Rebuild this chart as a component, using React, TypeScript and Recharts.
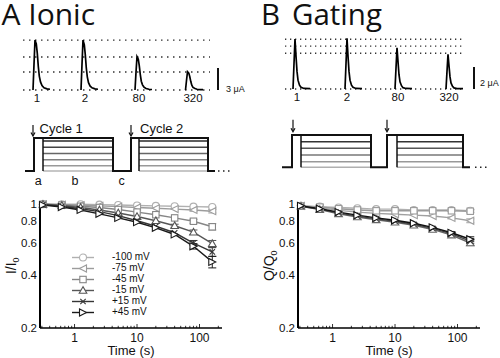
import React from 'react';
import { LineChart, Line, XAxis, YAxis, ReferenceLine, ReferenceDot, ErrorBar, Legend } from 'recharts';

const FONT = '"Liberation Sans", Arial, sans-serif';
const TITLE_FONT = '"Open Sans", "Noto Sans", sans-serif';

// ================= DATA =================
// Top row: example current traces (time in display units, current in µA)
const pulseLabels = ['1', '2', '80', '320'];

const ionicTraceTimes = [
  [33, 34, 35, 36.3, 37.3, 38.3, 39.3, 40.5, 42, 44, 47, 50],
  [81, 82, 83, 84.3, 85.3, 86.3, 87.3, 88.5, 90, 92, 95, 98],
  [135, 136, 137, 138.3, 139.3, 140.3, 141.3, 142.5, 144, 146, 149, 152],
  [185.5, 186.5, 187.5, 188.8, 189.8, 190.8, 191.8, 193, 195, 197, 200, 203],
];
const ionicTraceCurrents = [
  [0, 3.5, 6.8, 6.3, 5.0, 3.2, 1.9, 1.1, 0.6, 0.3, 0.15, 0.1],
  [0, 3.5, 6.8, 6.2, 4.8, 3.0, 1.8, 1.0, 0.55, 0.3, 0.15, 0.1],
  [0, 2.4, 4.55, 4.2, 3.3, 2.1, 1.2, 0.7, 0.4, 0.2, 0.1, 0.07],
  [0, 1.3, 2.5, 2.3, 1.8, 1.15, 0.65, 0.35, 0.2, 0.1, 0.05, 0.05],
];
const ionicPeakLevels = [0, 2.45, 4.5, 6.8];
const ionicScaleBar = 3;

const gatingTraceTimes = [
  [293, 294, 295, 296, 297, 298, 299.5, 301, 304, 310],
  [345, 346, 347, 348, 349, 350, 351.5, 353, 356, 362],
  [395, 396, 397, 398, 399, 400, 401.5, 403, 406, 412],
  [446, 447, 448, 449, 450, 451, 452.5, 454, 457, 463],
];
const gatingTraceCurrents = [
  [0, 2.3, 4.55, 3.0, 1.6, 0.8, 0.35, 0.15, 0.05, 0.03],
  [0, 2.3, 4.6, 3.0, 1.6, 0.8, 0.35, 0.15, 0.05, 0.03],
  [0, 1.9, 3.75, 2.5, 1.3, 0.65, 0.3, 0.12, 0.05, 0.03],
  [0, 1.6, 3.15, 2.1, 1.1, 0.55, 0.25, 0.1, 0.04, 0.03],
];
const gatingPeakLevels = [0, 3.25, 3.9, 4.52];
const gatingScaleBar = 2;

// Middle row: voltage protocols (time in display units, voltage in mV)
const holdingV = -100;
const protoATimes = [25, 34, 34, 113, 113, 131, 131, 208, 208, 215];
const protoAVolts = [-100, -100, 60, 60, -100, -100, 60, 60, -100, -100];
const protoATop = 60;
const protoAStepStarts = [43, 139];
const protoAStepEnds = [113, 208];
const protoALevels = [45, 15, -15, -45, -75, -100];
const protoAArrows = [33, 131];

const protoBTimes = [282, 292, 292, 371, 371, 387, 387, 463, 463, 470];
const protoBVolts = [-100, -100, 45, 45, -100, -100, 45, 45, -100, -100];
const protoBTop = 45;
const protoBStepStarts = [301, 397];
const protoBStepEnds = [371, 463];
const protoBLevels = [15, -15, -45, -75, -100];
const protoBArrows = [293, 387];

const cycleLabels = ['Cycle 1', 'Cycle 2'];
const phaseLabels = ['a', 'b', 'c'];

// Bottom row: normalized amplitude vs time
const times = [0.3125, 0.625, 1.25, 2.5, 5, 10, 20, 40, 80, 160];
const voltageLabels = ['-100 mV', '-75 mV', '-45 mV', '-15 mV', '+15 mV', '+45 mV'];

const ionicM100 = [0.99, 0.99, 0.99, 0.985, 0.98, 0.975, 0.97, 0.965, 0.96, 0.955];
const ionicM75 = [0.99, 0.985, 0.98, 0.97, 0.96, 0.95, 0.94, 0.93, 0.92, 0.905];
const ionicM45 = [0.99, 0.98, 0.965, 0.95, 0.925, 0.895, 0.865, 0.83, 0.795, 0.74];
const ionicM15 = [0.99, 0.975, 0.95, 0.92, 0.885, 0.845, 0.8, 0.75, 0.69, 0.595];
const ionicP15 = [0.985, 0.965, 0.935, 0.9, 0.855, 0.8, 0.745, 0.685, 0.6, 0.535];
const ionicP45 = [0.98, 0.955, 0.92, 0.875, 0.83, 0.785, 0.73, 0.67, 0.575, 0.47];
const ionicErrM100 = [null, null, null, null, null, null, null, null, null, 0.01];
const ionicErrM75 = [null, null, null, null, null, null, null, null, 0.015, 0.02];
const ionicErrM45 = [null, null, null, null, null, null, null, null, 0.02, 0.03];
const ionicErrM15 = [null, null, null, null, null, null, null, 0.015, 0.02, 0.025];
const ionicErrP15 = [null, null, null, null, null, null, null, null, 0.02, 0.03];
const ionicErrP45 = [null, null, null, null, null, null, null, null, 0.02, 0.035];

const gatingM100 = [0.97, 0.96, 0.95, 0.94, 0.93, 0.93, 0.92, 0.92, 0.92, 0.91];
const gatingM75 = [0.97, 0.945, 0.915, 0.895, 0.88, 0.87, 0.86, 0.85, 0.83, 0.8];
const gatingM45 = [0.97, 0.955, 0.935, 0.92, 0.91, 0.91, 0.91, 0.91, 0.91, 0.905];
const gatingM15 = [0.965, 0.925, 0.875, 0.84, 0.81, 0.785, 0.755, 0.715, 0.665, 0.6];
const gatingP15 = [0.965, 0.93, 0.885, 0.85, 0.82, 0.795, 0.765, 0.725, 0.675, 0.615];
const gatingP45 = [0.97, 0.935, 0.895, 0.86, 0.83, 0.805, 0.775, 0.735, 0.685, 0.63];
const gatingErr = [null, null, null, null, null, null, null, null, 0.01, 0.02];

const xTicks = [0.3, 0.4, 0.5, 0.6, 0.7, 0.8, 0.9, 1, 2, 3, 4, 5, 6, 7, 8, 9, 10, 20, 30, 40, 50, 60, 70, 80, 90, 100, 200];
const xMajorTicks = [1, 10, 100];
const yTicks = [0.2, 0.4, 0.6, 0.8, 1];

// ================= STYLE =================
const shapes = ['circle', 'triLeft', 'square', 'triUp', 'cross', 'triRight'];
const ionicColors = ['#b0b0b0', '#9c9c9c', '#868686', '#565656', '#363636', '#1a1a1a'];
const gatingColors = ['#b0b0b0', '#a0a0a0', '#9a9a9a', '#666666', '#444444', '#111111'];
const protoAColors = ['#2a2a2a', '#444444', '#666666', '#808080', '#999999', '#b5b5b5'];
const protoBColors = ['#333333', '#555555', '#777777', '#999999', '#b0b0b0'];

// ================= HELPERS =================
const Marker = ({ shape, cx, cy, color, s = 3.5 }: any) => {
  if (cx == null || cy == null || isNaN(cx) || isNaN(cy)) return <g />;
  const c = { stroke: color, strokeWidth: 1.1, fill: '#fff' };
  switch (shape) {
    case 'circle':
      return <circle cx={cx} cy={cy} r={s} {...c} />;
    case 'square':
      return <rect x={cx - s + 0.3} y={cy - s + 0.3} width={2 * s - 0.6} height={2 * s - 0.6} {...c} />;
    case 'triLeft':
      return <polygon points={`${cx - s},${cy} ${cx + s},${cy - s} ${cx + s},${cy + s}`} {...c} />;
    case 'triRight':
      return <polygon points={`${cx + s},${cy} ${cx - s},${cy - s} ${cx - s},${cy + s}`} {...c} />;
    case 'triUp':
      return <polygon points={`${cx},${cy - s - 0.3} ${cx - s - 0.3},${cy + s * 0.8} ${cx + s + 0.3},${cy + s * 0.8}`} {...c} />;
    default:
      return (
        <g stroke={color} strokeWidth={1.1}>
          <line x1={cx - 2.7} y1={cy - 2.7} x2={cx + 2.7} y2={cy + 2.7} />
          <line x1={cx - 2.7} y1={cy + 2.7} x2={cx + 2.7} y2={cy - 2.7} />
        </g>
      );
  }
};

const textShape = (value: string, opts: any = {}) => (p: any) => (
  <text
    x={p.cx}
    y={p.cy}
    textAnchor={opts.anchor || 'middle'}
    dy={opts.dy != null ? opts.dy : '0.35em'}
    fontFamily={FONT}
    fontSize={opts.size || 12}
    fill={opts.color || '#111'}
  >
    {value}
  </text>
);

const arrowShape = (len: number) => (p: any) => (
  <g stroke="#111" strokeWidth={1.2} fill="none">
    <line x1={p.cx} y1={p.cy - len} x2={p.cx} y2={p.cy - 0.5} />
    <polyline points={`${p.cx - 2},${p.cy - 3.5} ${p.cx},${p.cy} ${p.cx + 2},${p.cy - 3.5}`} />
  </g>
);

// ================= TRACES =================
function TraceChart(props: any) {
  const { times: tt, currents, levels, levelFrom, levelTo, dash, domainX, domainY, bar, barX, barLabel, barLabelX, barLabelY, labelXs, labelY } = props;
  const data: any[] = [];
  tt.forEach((arr: number[], k: number) => {
    arr.forEach((t, i) => data.push({ t, i: currents[k][i] }));
    data.push({ t: arr[arr.length - 1] + 0.5, i: null });
  });
  return (
    <LineChart width={250} height={80} data={data} margin={{ top: 0, right: 0, bottom: 0, left: 0 }}>
      <XAxis type="number" dataKey="t" domain={domainX} hide allowDataOverflow />
      <YAxis type="number" domain={domainY} hide allowDataOverflow />
      {levels.map((lv: number) => (
        <ReferenceLine key={'lv' + lv} segment={[{ x: levelFrom, y: lv }, { x: levelTo, y: lv }]} stroke="#333" strokeWidth={1.4} strokeDasharray={dash} />
      ))}
      <Line dataKey="i" stroke="#000" strokeWidth={1.7} dot={false} isAnimationActive={false} type="linear" connectNulls={false} />
      <ReferenceLine segment={[{ x: barX, y: 0 }, { x: barX, y: bar }]} stroke="#111" strokeWidth={2} />
      <ReferenceDot x={barLabelX} y={barLabelY} r={0} shape={textShape(barLabel, { anchor: 'start', size: 9 })} />
      {pulseLabels.map((l, k) => (
        <ReferenceDot key={l} x={labelXs[k]} y={labelY} r={0} shape={textShape(l, { size: 11.5 })} />
      ))}
    </LineChart>
  );
}

// ================= PROTOCOLS =================
function ProtocolChart(props: any) {
  const { times: tt, volts, top, stepStarts, stepEnds, levels, colors, domainX, domainY, arrows, arrowTip, arrowLen, dotsFrom, dotsTo, children } = props;
  const data = tt.map((t: number, i: number) => ({ t, v: volts[i] }));
  return (
    <LineChart width={250} height={90} data={data} margin={{ top: 0, right: 0, bottom: 0, left: 0 }}>
      <XAxis type="number" dataKey="t" domain={domainX} hide allowDataOverflow />
      <YAxis type="number" domain={domainY} hide allowDataOverflow />
      {stepStarts.map((s: number, k: number) =>
        levels.map((lv: number, j: number) => (
          <ReferenceLine key={`st${k}-${j}`} segment={[{ x: s, y: lv }, { x: stepEnds[k], y: lv }]} stroke={colors[j]} strokeWidth={1.5} />
        ))
      )}
      {stepStarts.map((s: number) => (
        <ReferenceLine key={'v' + s} segment={[{ x: s, y: holdingV }, { x: s, y: top }]} stroke="#111" strokeWidth={1.5} />
      ))}
      <Line dataKey="v" stroke="#111" strokeWidth={2} dot={false} isAnimationActive={false} type="linear" />
      <ReferenceLine segment={[{ x: dotsFrom, y: holdingV }, { x: dotsTo, y: holdingV }]} stroke="#222" strokeWidth={1.5} strokeDasharray="1.5 3.5" />
      {arrows.map((a: number) => (
        <ReferenceDot key={'a' + a} x={a} y={arrowTip} r={0} shape={arrowShape(arrowLen)} />
      ))}
      {children}
    </LineChart>
  );
}

// ================= DECAY PLOTS =================
const XTick = (p: any) => {
  const v = p.payload.value;
  const major = xMajorTicks.includes(v);
  return (
    <g>
      <line x1={p.x} x2={p.x} y1={p.y} y2={p.y - (major ? 4 : 2.2)} stroke="#000" strokeWidth={0.8} />
      {major && (
        <text x={p.x} y={p.y + 13.5} textAnchor="middle" fontFamily={FONT} fontSize={12} fill="#111">
          {v}
        </text>
      )}
    </g>
  );
};

const YTick = (p: any) => (
  <text x={p.x - 3} y={p.y} dy="0.36em" textAnchor="end" fontFamily={FONT} fontSize={11.5} fill="#111">
    {p.payload.value}
  </text>
);

function DecayChart(props: any) {
  const { values, errors, colors, yMain, showLegend } = props;
  const rows = times.map((t, i) => {
    const r: any = { t };
    values.forEach((arr: number[], k: number) => {
      r['s' + k] = arr[i];
      r['e' + k] = errors[k][i];
    });
    return r;
  });
  const yLabel = (lp: any) => {
    const vb = lp.viewBox || {};
    const cx = vb.x + 16;
    const cy = vb.y + vb.height / 2;
    return (
      <text x={cx} y={cy} transform={`rotate(-90 ${cx} ${cy})`} textAnchor="middle" fontFamily={FONT} fontSize={14} fill="#111">
        {yMain}
        <tspan dy={3} fontSize={9}>0</tspan>
      </text>
    );
  };
  const xLabel = (lp: any) => {
    const vb = lp.viewBox || {};
    return (
      <text x={vb.x + vb.width / 2} y={vb.y + 27} textAnchor="middle" fontFamily={FONT} fontSize={13} fill="#111">
        Time (s)
      </text>
    );
  };
  const legendContent = () => (
    <div style={{ fontFamily: FONT, fontSize: 10, color: '#111' }}>
      {voltageLabels.map((l, k) => (
        <div key={l} style={{ display: 'flex', alignItems: 'center', height: 10.9 }}>
          <svg width={22} height={11} style={{ display: 'block' }}>
            <line x1={0} x2={22} y1={5.5} y2={5.5} stroke={colors[k]} strokeWidth={1.4} />
            <Marker shape={shapes[k]} cx={11} cy={5.5} color={colors[k]} />
          </svg>
          <span style={{ marginLeft: 18, lineHeight: '10.9px', whiteSpace: 'nowrap' }}>{l}</span>
        </div>
      ))}
    </div>
  );
  return (
    <LineChart width={240} height={168} data={rows} margin={{ top: 13.5, right: 18, left: 0, bottom: 0 }}>
      <XAxis
        dataKey="t"
        type="number"
        scale="log"
        domain={[0.28, 229]}
        ticks={xTicks}
        interval={0}
        tick={XTick}
        tickLine={false}
        tickSize={0}
        tickMargin={0}
        axisLine={{ stroke: '#000', strokeWidth: 1.5 }}
        height={30}
        label={xLabel}
      />
      <YAxis
        type="number"
        scale="log"
        domain={[0.2, 1]}
        ticks={yTicks}
        interval={0}
        tick={YTick}
        tickLine={false}
        tickSize={0}
        tickMargin={0}
        axisLine={{ stroke: '#000', strokeWidth: 2 }}
        width={40}
        label={yLabel}
      />
      {values.map((_: any, k: number) => (
        <Line
          key={'s' + k}
          dataKey={'s' + k}
          name={voltageLabels[k]}
          stroke={colors[k]}
          strokeWidth={1.4}
          type="linear"
          isAnimationActive={false}
          dot={(p: any) => <Marker key={'d' + k + '-' + p.index} shape={shapes[k]} cx={p.cx} cy={p.cy} color={colors[k]} />}
          activeDot={false}
        >
          <ErrorBar dataKey={'e' + k} width={4} stroke={colors[k]} strokeWidth={1} direction="y" />
        </Line>
      ))}
      {showLegend && (
        <Legend
          layout="vertical"
          align="center"
          verticalAlign="middle"
          content={legendContent}
          wrapperStyle={{ left: 72, top: 62.2, width: 100, height: 66, bottom: 'auto', right: 'auto' }}
        />
      )}
    </LineChart>
  );
}

// ================= APP =================
export default function App() {
  return (
    <div style={{ position: 'fixed', left: 0, top: 0, width: 500, height: 358, background: '#fff', overflow: 'hidden' }}>
      <div style={{ position: 'absolute', left: 0, top: 30 }}>
        <TraceChart
          times={ionicTraceTimes}
          currents={ionicTraceCurrents}
          levels={ionicPeakLevels}
          levelFrom={23}
          levelTo={210}
          dash="1.5 4.5"
          domainX={[0, 250]}
          domainY={[-20 / 7.33, 60 / 7.33]}
          bar={ionicScaleBar}
          barX={218}
          barLabel="3 μA"
          barLabelX={226}
          barLabelY={0.14}
          labelXs={[37, 85, 139, 193]}
          labelY={-1.02}
        />
      </div>
      <div style={{ position: 'absolute', left: 250, top: 30 }}>
        <TraceChart
          times={gatingTraceTimes}
          currents={gatingTraceCurrents}
          levels={gatingPeakLevels}
          levelFrom={285}
          levelTo={465}
          dash="1.3 3.7"
          domainX={[250, 500]}
          domainY={[-21 / 11, 59 / 11]}
          bar={gatingScaleBar}
          barX={474}
          barLabel="2 μA"
          barLabelX={480}
          barLabelY={0.57}
          labelXs={[297, 347, 398, 449]}
          labelY={-0.68}
        />
      </div>

      <div style={{ position: 'absolute', left: 0, top: 110 }}>
        <ProtocolChart
          times={protoATimes}
          volts={protoAVolts}
          top={protoATop}
          stepStarts={protoAStepStarts}
          stepEnds={protoAStepEnds}
          levels={protoALevels}
          colors={protoAColors}
          domainX={[0, 250]}
          domainY={[-100 - 29 / 0.20625, -100 + 61 / 0.20625]}
          arrows={protoAArrows}
          arrowTip={69.7}
          arrowLen={11}
          dotsFrom={218}
          dotsTo={231}
        >
          <ReferenceDot x={39.5} y={85.7} r={0} shape={textShape(cycleLabels[0], { anchor: 'start', size: 13, dy: 0 })} />
          <ReferenceDot x={140} y={85.7} r={0} shape={textShape(cycleLabels[1], { anchor: 'start', size: 13, dy: 0 })} />
          <ReferenceDot x={38.3} y={-167.9} r={0} shape={textShape(phaseLabels[0], { size: 12.5, dy: 0 })} />
          <ReferenceDot x={75} y={-167.9} r={0} shape={textShape(phaseLabels[1], { size: 12.5, dy: 0 })} />
          <ReferenceDot x={121.7} y={-167.9} r={0} shape={textShape(phaseLabels[2], { size: 12.5, dy: 0 })} />
        </ProtocolChart>
      </div>
      <div style={{ position: 'absolute', left: 250, top: 110 }}>
        <ProtocolChart
          times={protoBTimes}
          volts={protoBVolts}
          top={protoBTop}
          stepStarts={protoBStepStarts}
          stepEnds={protoBStepEnds}
          levels={protoBLevels}
          colors={protoBColors}
          domainX={[250, 500]}
          domainY={[-100 - 32.7 / 0.2228, -100 + 57.3 / 0.2228]}
          arrows={protoBArrows}
          arrowTip={59.8}
          arrowLen={12}
          dotsFrom={475}
          dotsTo={489}
        />
      </div>

      <div style={{ position: 'absolute', left: 0, top: 190 }}>
        <DecayChart
          values={[ionicM100, ionicM75, ionicM45, ionicM15, ionicP15, ionicP45]}
          errors={[ionicErrM100, ionicErrM75, ionicErrM45, ionicErrM15, ionicErrP15, ionicErrP45]}
          colors={ionicColors}
          yMain="I/I"
          showLegend
        />
      </div>
      <div style={{ position: 'absolute', left: 258, top: 190 }}>
        <DecayChart
          values={[gatingM100, gatingM75, gatingM45, gatingM15, gatingP15, gatingP45]}
          errors={[gatingErr, gatingErr, gatingErr, gatingErr, gatingErr, gatingErr]}
          colors={gatingColors}
          yMain="Q/Q"
        />
      </div>

      <svg style={{ position: 'absolute', left: 0, top: 0 }} width={500} height={40}>
        <text x={1.5} y={25} fontFamily={TITLE_FONT} fontSize={30} fill="#111">A Ionic</text>
        <text x={261} y={25} fontFamily={TITLE_FONT} fontSize={29.5} fill="#111">B</text>
        <text x={292} y={25} fontFamily={TITLE_FONT} fontSize={29.5} fill="#111">Gating</text>
      </svg>
    </div>
  );
}
